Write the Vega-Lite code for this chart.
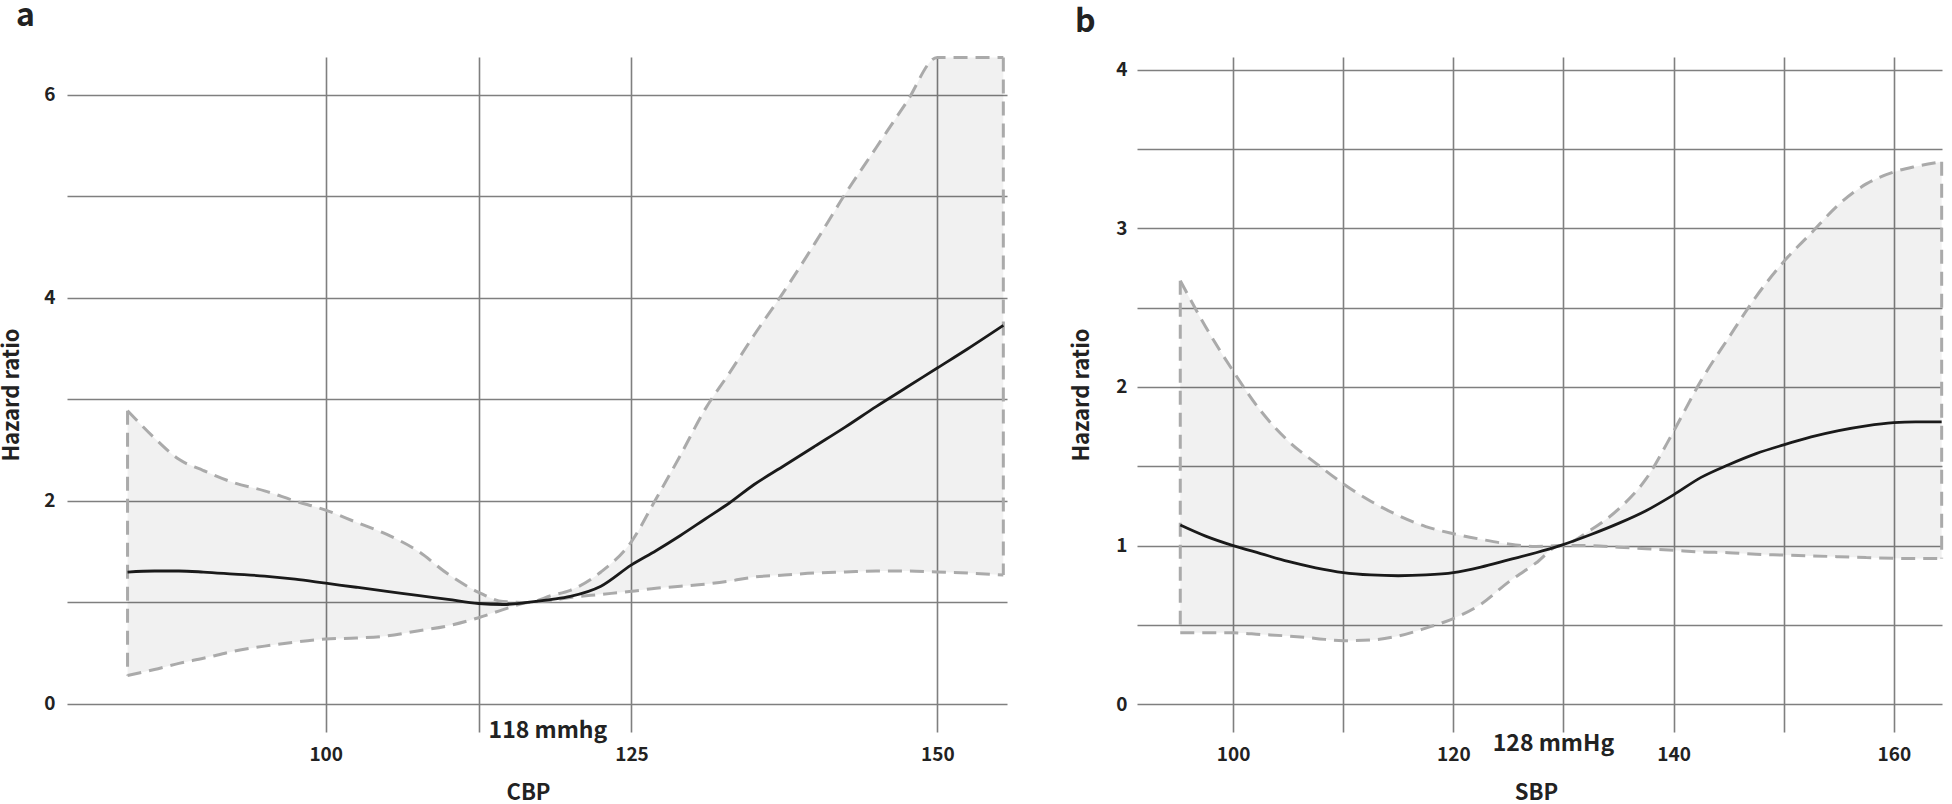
{
  "$schema": "https://vega.github.io/schema/vega-lite/v6.json",
  "padding": {"left": 0, "top": 0, "right": 8, "bottom": 0},
  "background": "white",
  "config": {
    "view": {"stroke": null},
    "font": "Noto Sans CJK KR",
    "axis": {
      "grid": true, "gridColor": "#7f7f7f", "gridWidth": 1.6,
      "domain": false, "ticks": false, "tickSize": 0,
      "labelFont": "Noto Sans CJK KR", "labelFontWeight": "bold", "labelFontSize": 19, "labelColor": "#222222",
      "titleFont": "Noto Sans CJK KR", "titleFontWeight": "bold", "titleFontSize": 22, "titleColor": "#222222"
    },
    "title": {"font": "Noto Sans CJK KR", "fontWeight": "bold", "fontSize": 32, "color": "#222222"}
  },
  "datasets": {
    "curveA": [
      {"x": 83.8, "est": 1.30, "lo": 0.28, "hi": 2.89},
      {"x": 86, "est": 1.31, "lo": 0.34, "hi": 2.62},
      {"x": 88, "est": 1.31, "lo": 0.40, "hi": 2.41},
      {"x": 90, "est": 1.30, "lo": 0.45, "hi": 2.30},
      {"x": 92.5, "est": 1.28, "lo": 0.52, "hi": 2.18},
      {"x": 95, "est": 1.26, "lo": 0.57, "hi": 2.10},
      {"x": 97.5, "est": 1.23, "lo": 0.61, "hi": 2.00},
      {"x": 100, "est": 1.19, "lo": 0.64, "hi": 1.91},
      {"x": 102.5, "est": 1.15, "lo": 0.65, "hi": 1.79},
      {"x": 105, "est": 1.11, "lo": 0.67, "hi": 1.67},
      {"x": 107.5, "est": 1.07, "lo": 0.72, "hi": 1.51},
      {"x": 110, "est": 1.03, "lo": 0.77, "hi": 1.28},
      {"x": 112.5, "est": 0.99, "lo": 0.85, "hi": 1.10},
      {"x": 114.5, "est": 0.98, "lo": 0.93, "hi": 1.01},
      {"x": 116.5, "est": 1.00, "lo": 1.00, "hi": 1.00},
      {"x": 118.5, "est": 1.03, "lo": 1.02, "hi": 1.07},
      {"x": 120, "est": 1.06, "lo": 1.05, "hi": 1.12},
      {"x": 122.5, "est": 1.16, "lo": 1.08, "hi": 1.30},
      {"x": 125, "est": 1.37, "lo": 1.11, "hi": 1.60},
      {"x": 127, "est": 1.51, "lo": 1.14, "hi": 2.02},
      {"x": 129, "est": 1.66, "lo": 1.16, "hi": 2.45},
      {"x": 131, "est": 1.82, "lo": 1.18, "hi": 2.90},
      {"x": 133, "est": 1.98, "lo": 1.21, "hi": 3.26},
      {"x": 135, "est": 2.16, "lo": 1.25, "hi": 3.63},
      {"x": 137.5, "est": 2.35, "lo": 1.27, "hi": 4.07},
      {"x": 140, "est": 2.54, "lo": 1.29, "hi": 4.54},
      {"x": 142.5, "est": 2.73, "lo": 1.30, "hi": 5.03},
      {"x": 145, "est": 2.93, "lo": 1.31, "hi": 5.48},
      {"x": 147.5, "est": 3.12, "lo": 1.31, "hi": 5.93},
      {"x": 150, "est": 3.31, "lo": 1.30, "hi": 6.37},
      {"x": 152.5, "est": 3.50, "lo": 1.29, "hi": 6.37},
      {"x": 155.4, "est": 3.73, "lo": 1.27, "hi": 6.37}
    ],
    "curveB": [
      {"x": 95.2, "est": 1.13, "lo": 0.45, "hi": 2.67},
      {"x": 97.5, "est": 1.06, "lo": 0.45, "hi": 2.38},
      {"x": 100, "est": 1.00, "lo": 0.45, "hi": 2.10},
      {"x": 102.5, "est": 0.95, "lo": 0.44, "hi": 1.85},
      {"x": 105, "est": 0.90, "lo": 0.43, "hi": 1.66},
      {"x": 107.5, "est": 0.86, "lo": 0.415, "hi": 1.52},
      {"x": 110, "est": 0.83, "lo": 0.40, "hi": 1.39},
      {"x": 112.5, "est": 0.815, "lo": 0.405, "hi": 1.28},
      {"x": 115, "est": 0.81, "lo": 0.43, "hi": 1.19},
      {"x": 117.5, "est": 0.815, "lo": 0.48, "hi": 1.12},
      {"x": 120, "est": 0.83, "lo": 0.54, "hi": 1.075},
      {"x": 122.5, "est": 0.865, "lo": 0.63, "hi": 1.04},
      {"x": 125, "est": 0.91, "lo": 0.77, "hi": 1.01},
      {"x": 127.5, "est": 0.955, "lo": 0.89, "hi": 0.995},
      {"x": 129.7, "est": 1.00, "lo": 1.00, "hi": 1.00},
      {"x": 132.5, "est": 1.07, "lo": 1.00, "hi": 1.10},
      {"x": 135, "est": 1.14, "lo": 0.99, "hi": 1.23},
      {"x": 137.5, "est": 1.22, "lo": 0.98, "hi": 1.42},
      {"x": 140, "est": 1.32, "lo": 0.97, "hi": 1.72},
      {"x": 142.5, "est": 1.43, "lo": 0.96, "hi": 2.04},
      {"x": 145, "est": 1.51, "lo": 0.955, "hi": 2.31},
      {"x": 147.5, "est": 1.58, "lo": 0.945, "hi": 2.57},
      {"x": 150, "est": 1.635, "lo": 0.94, "hi": 2.79},
      {"x": 152.5, "est": 1.685, "lo": 0.935, "hi": 2.97},
      {"x": 155, "est": 1.725, "lo": 0.93, "hi": 3.15},
      {"x": 157.5, "est": 1.755, "lo": 0.925, "hi": 3.28},
      {"x": 160, "est": 1.775, "lo": 0.92, "hi": 3.355},
      {"x": 162, "est": 1.78, "lo": 0.918, "hi": 3.39},
      {"x": 164.35, "est": 1.78, "lo": 0.918, "hi": 3.42}
    ]
  },
  "bounds": "flush",
  "spacing": 130,
  "hconcat": [
    {
      "width": 940,
      "height": 675,
      "title": {"text": "a", "anchor": "start", "frame": "group", "dx": -51, "offset": -7, "baseline": "alphabetic"},
      "data": {"name": "curveA"},
      "layer": [
        {
          "mark": {"type": "area", "fill": "#000000", "fillOpacity": 0.055, "interpolate": "monotone"},
          "encoding": {
            "x": {"field": "x", "type": "quantitative",
              "scale": {"domain": [78.85, 155.7], "nice": false, "zero": false},
              "axis": {"values": [100, 112.5, 125, 150], "labelExpr": "datum.value == 112.5 ? '' : format(datum.value, 'd')", "title": "CBP", "labelPadding": 13, "titlePadding": 18, "titleX": 461}},
            "y": {"field": "lo", "type": "quantitative",
              "scale": {"domain": [-0.276, 6.374], "nice": false, "zero": false},
              "axis": {"values": [0, 1, 2, 3, 4, 5, 6], "labelExpr": "datum.value % 2 == 0 ? format(datum.value, 'd') : ''", "title": "Hazard ratio", "labelPadding": 12, "titlePadding": 20}},
            "y2": {"field": "hi"}
          }
        },
        {
          "mark": {"type": "line", "stroke": "#aaaaaa", "strokeWidth": 3, "strokeDash": [14, 8], "interpolate": "monotone"},
          "encoding": {"x": {"field": "x", "type": "quantitative"}, "y": {"field": "hi", "type": "quantitative"}}
        },
        {
          "mark": {"type": "line", "stroke": "#aaaaaa", "strokeWidth": 3, "strokeDash": [14, 8], "interpolate": "monotone"},
          "encoding": {"x": {"field": "x", "type": "quantitative"}, "y": {"field": "lo", "type": "quantitative"}}
        },
        {
          "transform": [
            {"joinaggregate": [{"op": "min", "field": "x", "as": "xmin"}, {"op": "max", "field": "x", "as": "xmax"}]},
            {"filter": "datum.x == datum.xmin || datum.x == datum.xmax"}
          ],
          "mark": {"type": "rule", "stroke": "#aaaaaa", "strokeWidth": 3, "strokeDash": [14, 8]},
          "encoding": {"x": {"field": "x", "type": "quantitative"}, "y": {"field": "hi", "type": "quantitative"}, "y2": {"field": "lo"}}
        },
        {
          "mark": {"type": "line", "stroke": "#1a1a1a", "strokeWidth": 2.8, "interpolate": "monotone"},
          "encoding": {"x": {"field": "x", "type": "quantitative"}, "y": {"field": "est", "type": "quantitative"}}
        },
        {
          "data": {"values": [{"x": 112.5, "y": 0, "label": "118 mmhg"}]},
          "mark": {"type": "text", "align": "left", "baseline": "alphabetic", "dx": 10, "dy": 34, "fontSize": 23, "fontWeight": "bold", "font": "Noto Sans CJK KR", "color": "#222222"},
          "encoding": {"x": {"field": "x", "type": "quantitative"}, "y": {"field": "y", "type": "quantitative"}, "text": {"field": "label"}}
        }
      ]
    },
    {
      "width": 805,
      "height": 675,
      "title": {"text": "b", "anchor": "start", "frame": "group", "dx": -62, "offset": -7, "baseline": "alphabetic"},
      "data": {"name": "curveB"},
      "layer": [
        {
          "mark": {"type": "area", "fill": "#000000", "fillOpacity": 0.055, "interpolate": "monotone"},
          "encoding": {
            "x": {"field": "x", "type": "quantitative",
              "scale": {"domain": [91.27, 164.38], "nice": false, "zero": false},
              "axis": {"values": [100, 110, 120, 130, 140, 150, 160], "labelExpr": "datum.value % 20 == 0 ? format(datum.value, 'd') : ''", "title": "SBP", "labelPadding": 13, "titlePadding": 18, "titleX": 399}},
            "y": {"field": "lo", "type": "quantitative",
              "scale": {"domain": [-0.175, 4.08], "nice": false, "zero": false},
              "axis": {"values": [0, 0.5, 1, 1.5, 2, 2.5, 3, 3.5, 4], "labelExpr": "datum.value % 1 == 0 ? format(datum.value, 'd') : ''", "title": "Hazard ratio", "labelPadding": 10, "titlePadding": 22}},
            "y2": {"field": "hi"}
          }
        },
        {
          "mark": {"type": "line", "stroke": "#aaaaaa", "strokeWidth": 3, "strokeDash": [14, 8], "interpolate": "monotone"},
          "encoding": {"x": {"field": "x", "type": "quantitative"}, "y": {"field": "hi", "type": "quantitative"}}
        },
        {
          "mark": {"type": "line", "stroke": "#aaaaaa", "strokeWidth": 3, "strokeDash": [14, 8], "interpolate": "monotone"},
          "encoding": {"x": {"field": "x", "type": "quantitative"}, "y": {"field": "lo", "type": "quantitative"}}
        },
        {
          "transform": [
            {"joinaggregate": [{"op": "min", "field": "x", "as": "xmin"}, {"op": "max", "field": "x", "as": "xmax"}]},
            {"filter": "datum.x == datum.xmin || datum.x == datum.xmax"}
          ],
          "mark": {"type": "rule", "stroke": "#aaaaaa", "strokeWidth": 3, "strokeDash": [14, 8]},
          "encoding": {"x": {"field": "x", "type": "quantitative"}, "y": {"field": "hi", "type": "quantitative"}, "y2": {"field": "lo"}}
        },
        {
          "mark": {"type": "line", "stroke": "#1a1a1a", "strokeWidth": 2.8, "interpolate": "monotone"},
          "encoding": {"x": {"field": "x", "type": "quantitative"}, "y": {"field": "est", "type": "quantitative"}}
        },
        {
          "data": {"values": [{"x": 130, "y": 0, "label": "128 mmHg"}]},
          "mark": {"type": "text", "align": "center", "baseline": "alphabetic", "dx": -10, "dy": 47, "fontSize": 23, "fontWeight": "bold", "font": "Noto Sans CJK KR", "color": "#222222"},
          "encoding": {"x": {"field": "x", "type": "quantitative"}, "y": {"field": "y", "type": "quantitative"}, "text": {"field": "label"}}
        }
      ]
    }
  ]
}
